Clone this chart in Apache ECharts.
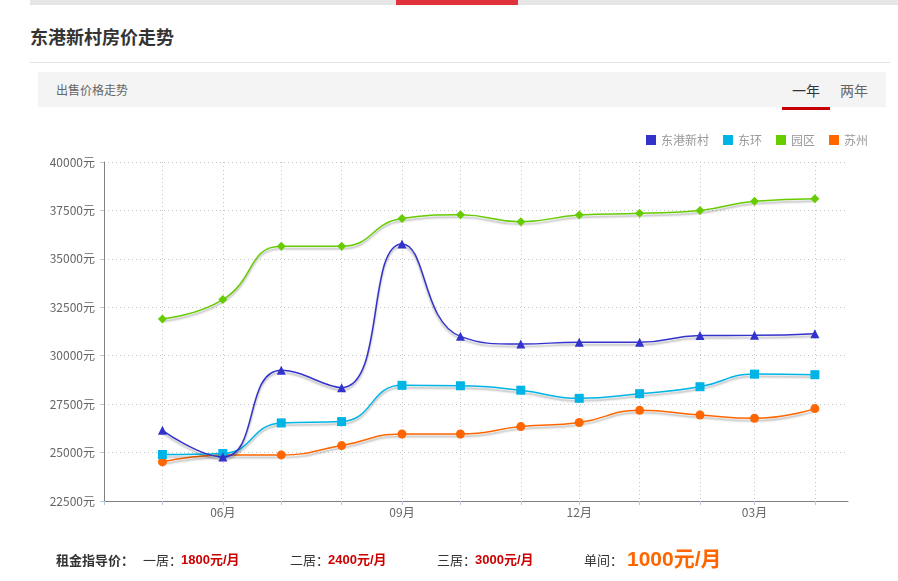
<!DOCTYPE html>
<html><head><meta charset="utf-8">
<script src="https://cdn.jsdelivr.net/npm/echarts@6/dist/echarts.min.js"></script>
<style>
html,body{margin:0;padding:0;background:#fff;width:898px;height:581px;overflow:hidden;font-family:"Noto Sans CJK SC","Noto Sans",sans-serif;}
#chart{position:absolute;left:0;top:0;width:898px;height:581px;}
.abs{position:absolute;white-space:nowrap;}
.ft{position:absolute;top:549px;line-height:22px;font-size:13px;color:#333;white-space:nowrap;}
.num{font-weight:bold;color:#cc0000;font-family:"Liberation Sans","Noto Sans CJK SC",sans-serif;}
</style></head><body>
<div class="abs" style="left:30px;top:0;width:868px;height:5px;background:#e6e6e6"></div>
<div class="abs" style="left:396px;top:0;width:122px;height:5px;background:#e0323a"></div>
<div class="abs" style="left:30px;top:24px;font-size:18px;line-height:24px;font-weight:bold;color:#333">东港新村房价走势</div>
<div class="abs" style="left:30px;top:62px;width:860px;height:1px;background:#e3e3e3"></div>
<div class="abs" style="left:38px;top:72px;width:848px;height:35px;background:#f4f4f4"></div>
<div class="abs" style="left:56px;top:81px;font-size:12px;line-height:18px;color:#666">出售价格走势</div>
<div class="abs" style="left:792px;top:80px;font-size:14px;line-height:20px;color:#333">一年</div>
<div class="abs" style="left:840px;top:80px;font-size:14px;line-height:20px;color:#666">两年</div>
<div class="abs" style="left:782px;top:107px;width:48px;height:3px;background:#c40000"></div>
<div id="chart"></div>
<div class="ft" style="left:56px;font-weight:bold;">租金指导价：</div>
<div class="ft" style="left:143px;">一居：</div>
<div class="ft num" style="left:181px;">1800元/月</div>
<div class="ft" style="left:290px;">二居：</div>
<div class="ft num" style="left:328px;">2400元/月</div>
<div class="ft" style="left:437px;">三居：</div>
<div class="ft num" style="left:475px;">3000元/月</div>
<div class="ft" style="left:584px;">单间：</div>
<div class="ft num" style="left:627px;top:546px;font-size:21px;line-height:26px;color:#ff6600;">1000元/月</div>
<script>
// ---- data ----
const months = ['2022-05','2022-06','2022-07','2022-08','2022-09','2022-10','2022-11','2022-12','2023-01','2023-02','2023-03','2023-04'];
const seriesNames = ['东港新村','东环','园区','苏州'];
const dongGangXinCun = [26150, 24770, 29250, 28350, 35770, 31000, 30600, 30700, 30700, 31040, 31050, 31140];
const dongHuan = [24900, 24950, 26530, 26600, 28470, 28450, 28220, 27800, 28040, 28400, 29050, 29020];
const yuanQu = [31900, 32900, 35650, 35650, 37080, 37280, 36920, 37260, 37350, 37500, 37970, 38100];
const suZhou = [24520, 24870, 24880, 25360, 25960, 25960, 26340, 26550, 27180, 26940, 26770, 27270];
const xTickMonths = ['2022-04','2022-05','2022-06','2022-07','2022-08','2022-09','2022-10','2022-11','2022-12','2023-01','2023-02','2023-03','2023-04'];
const xLabelMonths = ['2022-06','2022-09','2022-12','2023-03'];
const xLabelTexts = ['06月','09月','12月','03月'];
const xAxisStart = '2022-04-01';
const xAxisEnd = '2023-04-18';
const yMin = 22500, yMax = 40000, yStep = 2500;
const yUnit = '元';

// day number (days since epoch, UTC) so the x axis is a plain value axis in days
function toDay(s){
  const p = s.split('-').map(Number);
  return Date.UTC(p[0], p[1]-1, p[2] || 1) / 86400000;
}
const colors = ['#3333cc','#00b4e6','#66cc00','#ff6600'];
const symbols = ['triangle','rect','diamond','circle'];
const symbolSizes = [9, 9, 9, 9];
const zs = [5, 4, 3, 2];
const values = [dongGangXinCun, dongHuan, yuanQu, suZhou];
const labelDays = xLabelMonths.map(toDay);
const font = '"Noto Sans CJK SC", "Noto Sans", sans-serif';

const chart = echarts.init(document.getElementById('chart'), null, {renderer:'canvas'});
chart.setOption({
  animation: false,
  backgroundColor: 'transparent',
  legend: {
    data: seriesNames.map((n,i)=>({name:n, icon:'rect', itemStyle:{color:colors[i]}})),
    right: 30, top: 134, itemWidth: 10, itemHeight: 10, itemGap: 14, padding: 0,
    textStyle: {color:'#999', fontSize:12, fontFamily:font}
  },
  grid: {left:104, right:50, top:162, bottom:80, containLabel:false},
  xAxis: {
    type: 'value',
    min: toDay(xAxisStart), max: toDay(xAxisEnd),
    axisLine: {show:true, onZero:false, lineStyle:{color:'#808080', width:1}},
    axisTick: {show:true, length:4, customValues: xTickMonths.map(toDay), lineStyle:{color:'#b8c8dc'}},
    axisLabel: {
      customValues: labelDays, color:'#666', fontSize:12, margin:5, fontFamily:font,
      formatter: function(v){ const i = labelDays.indexOf(v); return i >= 0 ? xLabelTexts[i] : ''; }
    },
    splitLine: {show:true, lineStyle:{color:'#c4c4c4', type:[1,3]}}
  },
  yAxis: {
    type: 'value', min: yMin, max: yMax, interval: yStep,
    axisLine: {show:true, lineStyle:{color:'#808080', width:1}},
    axisTick: {show:true, length:4, lineStyle:{color:'#b8c8dc'}},
    axisLabel: {formatter: function(v){ return String(v) + yUnit; }, color:'#666', fontSize:12, margin:9, fontFamily:font},
    splitLine: {show:true, lineStyle:{color:'#c4c4c4', type:[1,3]}}
  },
  series: seriesNames.map((n,i)=>({
    name: n, type: 'line', smooth: true,
    symbol: symbols[i], symbolSize: symbolSizes[i], showSymbol: true,
    z: zs[i],
    data: months.map((m,j)=>[toDay(m), values[i][j]]),
    lineStyle: {width:1.5, color:colors[i], shadowColor:'rgba(0,0,0,0.3)', shadowBlur:2, shadowOffsetY:2.5},
    itemStyle: {color:colors[i]}
  }))
});
</script>
</body></html>
